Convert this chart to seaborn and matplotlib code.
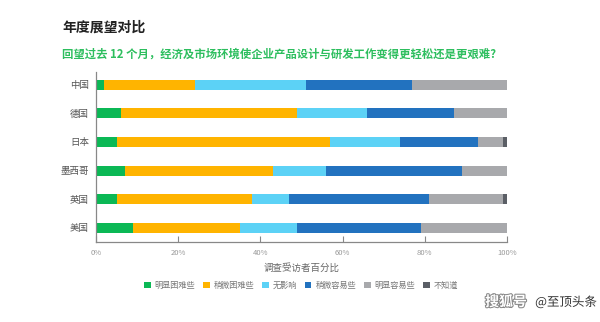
import matplotlib
matplotlib.use("Agg")
import matplotlib.pyplot as plt
import matplotlib.patheffects as pe
from matplotlib.patches import Patch
import numpy as np
import pandas as pd
import seaborn as sns

countries = ["中国", "德国", "日本", "墨西哥", "英国", "美国"]
responses = ["明显困难些", "稍微困难些", "无影响", "稍微容易些", "明显容易些", "不知道"]
much_harder = [2, 6, 5, 7, 5, 9]
bit_harder = [22, 43, 52, 36, 33, 26]
no_effect = [27, 17, 17, 13, 9, 14]
bit_easier = [26, 21, 19, 33, 34, 30]
much_easier = [23, 13, 6, 11, 18, 21]
dont_know = [0, 0, 1, 0, 1, 0]
xticks = [0, 20, 40, 60, 80, 100]
xtick_labels = ["0%", "20%", "40%", "60%", "80%", "100%"]

colors = ["#0BB855", "#FFB400", "#5CD2F6", "#2272BF", "#A8A9AC", "#5B5F66"]

sns.set_theme(style="white")
plt.rcParams["font.family"] = ["Noto Sans CJK SC", "DejaVu Sans"]

series = [much_harder, bit_harder, no_effect, bit_easier, much_easier, dont_know]
cum = np.cumsum(np.array(series, dtype=float), axis=0)
df = pd.DataFrame({"country": countries})
for name, col in zip(responses, cum):
    df[name] = col

fig = plt.figure(figsize=(6.0, 3.22), dpi=100)
ax = fig.add_axes([0.16, 0.247, 0.685, 0.53])

# stacked bars: draw cumulative totals from the outermost segment inward
for name, color in reversed(list(zip(responses, colors))):
    sns.barplot(data=df, y="country", x=name, orient="h", color=color,
                width=0.35, linewidth=0, saturation=1, ax=ax)

ax.set_xlim(0, 100)
ax.set_ylim(5.51, -0.45)
ax.set_xticks(xticks)
ax.set_xticklabels(xtick_labels)
ax.set_ylabel("")
ax.set_xlabel("调查受访者百分比", fontsize=6.8, color="#666666", labelpad=4)
ax.tick_params(axis="x", direction="in", length=4, width=0.8, color="#888888",
               labelsize=5.5, labelcolor="#999999", pad=5, bottom=True)
ax.tick_params(axis="y", length=0, labelsize=6.8, labelcolor="#555555", pad=5)
for side in ["top", "right"]:
    ax.spines[side].set_visible(False)
for side in ["left", "bottom"]:
    ax.spines[side].set_color("#888888")
    ax.spines[side].set_linewidth(0.9)

fig.text(0.104, 0.915, "年度展望对比", fontsize=10, fontweight="bold",
         color="#222222", va="center", ha="left")
fig.text(0.104, 0.833,
         "回望过去 12 个月，经济及市场环境使企业产品设计与研发工作变得更轻松还是更艰难?",
         fontsize=8.2, fontweight="bold", color="#2DBE5E", va="center", ha="left")

handles = [Patch(facecolor=c, edgecolor="none", label=l) for c, l in zip(colors, responses)]
leg = fig.legend(handles=handles, loc="center", bbox_to_anchor=(0.502, 0.115), ncol=6,
                 frameon=False, fontsize=5.9, handlelength=0.75, handleheight=0.75,
                 handletextpad=0.5, columnspacing=1.0)
for t in leg.get_texts():
    t.set_color("#777777")

fig.text(0.878, 0.062, "搜狐号", fontsize=10, fontweight="bold", style="italic",
         color="white", ha="right", va="center",
         path_effects=[pe.withStroke(linewidth=1.5, foreground="#888888")])
fig.text(0.995, 0.062, "@至顶头条", fontsize=9, color="#333333", ha="right", va="center",
         path_effects=[pe.withStroke(linewidth=2, foreground="white")])

fig.savefig("out.png", dpi=100)
